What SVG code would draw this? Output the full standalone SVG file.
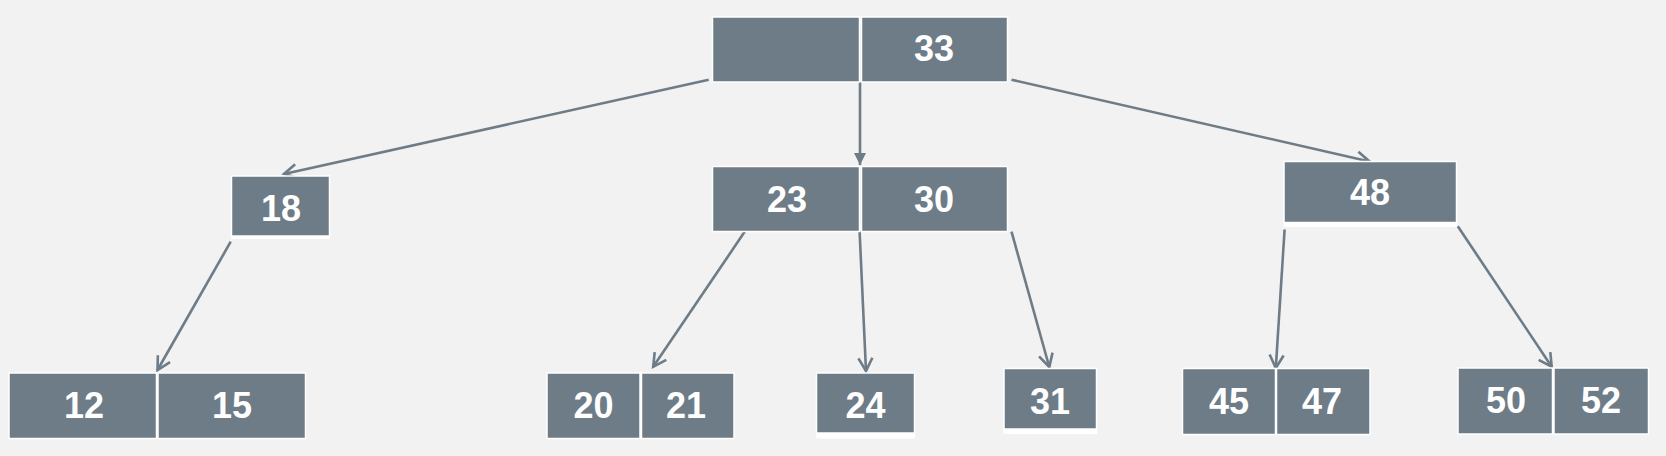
<svg xmlns="http://www.w3.org/2000/svg" width="1666" height="456" viewBox="0 0 1666 456">
<style>
.k{fill:#6d7c87;stroke:#ffffff;stroke-width:1.5}
.s{fill:#ffffff}
.t{font-family:"Liberation Sans",Arial,sans-serif;font-weight:bold;font-size:36px;fill:#ffffff;text-anchor:middle}
.c{stroke:#6d7c87;stroke-width:2.6;fill:none}
</style>
<defs>
<marker id="open" markerUnits="userSpaceOnUse" markerWidth="18" markerHeight="18" refX="14" refY="8" orient="auto" viewBox="0 0 18 16">
<path d="M1,1 L14,8 L1,15" fill="none" stroke="#6d7c87" stroke-width="2.6"/>
</marker>
<marker id="fill" markerUnits="userSpaceOnUse" markerWidth="14" markerHeight="12" refX="12" refY="6" orient="auto" viewBox="0 0 14 12">
<path d="M0,0 L12,6 L0,12 Z" fill="#6d7c87"/>
</marker>
</defs>
<rect width="1666" height="456" fill="#f2f2f2"/>
<g id="connectors">
<line class="c" x1="708.7" y1="79.7" x2="284" y2="174" marker-end="url(#open)"/>
<line class="c" x1="860" y1="82" x2="860" y2="165" marker-end="url(#fill)"/>
<line class="c" x1="1011.5" y1="79.7" x2="1369.5" y2="161.5" marker-end="url(#open)"/>
<line class="c" x1="230.7" y1="241.7" x2="157.5" y2="370" marker-end="url(#open)"/>
<line class="c" x1="744.8" y1="231.6" x2="653.2" y2="366.8" marker-end="url(#open)"/>
<line class="c" x1="859.6" y1="231.6" x2="866" y2="371" marker-end="url(#open)"/>
<line class="c" x1="1011.5" y1="231.6" x2="1049.3" y2="367" marker-end="url(#open)"/>
<line class="c" x1="1284.6" y1="229.5" x2="1275.8" y2="368" marker-end="url(#open)"/>
<line class="c" x1="1457.8" y1="226.3" x2="1551.7" y2="366.7" marker-end="url(#open)"/>
</g>
<g id="n33">
<rect class="k" x="712.5" y="17" width="147" height="65"/>
<rect class="k" x="861.5" y="17" width="146" height="65"/>
<text class="t" x="934" y="61">33</text>
</g>
<g id="n18">
<rect class="s" x="231" y="179" width="99" height="60"/>
<rect class="k" x="231.5" y="176" width="98" height="60"/>
<text class="t" x="281" y="221">18</text>
</g>
<g id="n23_30">
<rect class="k" x="712.5" y="166.5" width="147" height="65"/>
<rect class="k" x="861.5" y="166.5" width="146" height="65"/>
<text class="t" x="787" y="212">23</text>
<text class="t" x="934" y="212">30</text>
</g>
<g id="n48">
<rect class="s" x="1283.5" y="166" width="173.5" height="61"/>
<rect class="k" x="1284" y="161.5" width="172.5" height="61"/>
<text class="t" x="1370" y="205">48</text>
</g>
<g id="n12_15">
<rect class="k" x="9" y="373" width="147.5" height="65.5"/>
<rect class="k" x="158" y="373" width="147.5" height="65.5"/>
<text class="t" x="84" y="418">12</text>
<text class="t" x="232" y="418">15</text>
</g>
<g id="n20_21">
<rect class="k" x="547" y="373" width="93" height="65.5"/>
<rect class="k" x="641.5" y="373" width="92.5" height="65.5"/>
<text class="t" x="593.5" y="418">20</text>
<text class="t" x="686" y="418">21</text>
</g>
<g id="n24">
<rect class="s" x="816" y="378" width="99" height="60.5"/>
<rect class="k" x="816.5" y="373" width="98" height="60"/>
<text class="t" x="865.5" y="418">24</text>
</g>
<g id="n31">
<rect class="s" x="1003.5" y="373.5" width="93.5" height="60.5"/>
<rect class="k" x="1004" y="368.5" width="92.5" height="60.5"/>
<text class="t" x="1050" y="414">31</text>
</g>
<g id="n45_47">
<rect class="k" x="1182.5" y="368.5" width="93" height="66"/>
<rect class="k" x="1276.5" y="368.5" width="93.5" height="66"/>
<text class="t" x="1229" y="414">45</text>
<text class="t" x="1322" y="414">47</text>
</g>
<g id="n50_52">
<rect class="k" x="1458" y="368" width="94.5" height="66"/>
<rect class="k" x="1554" y="368" width="94.5" height="66"/>
<text class="t" x="1506" y="413">50</text>
<text class="t" x="1601" y="413">52</text>
</g>
</svg>
